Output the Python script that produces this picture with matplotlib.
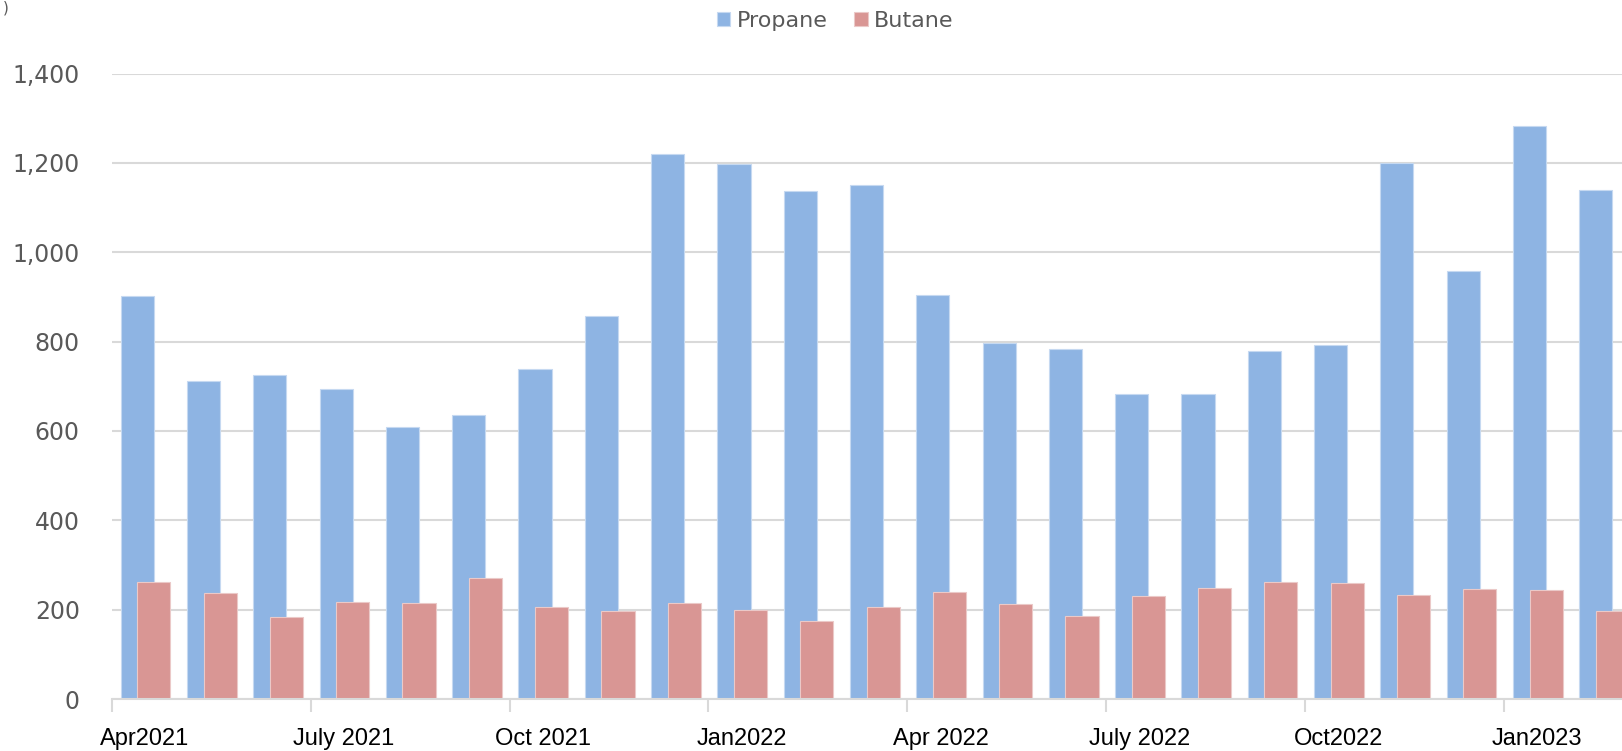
import matplotlib
matplotlib.use("Agg")
import matplotlib.pyplot as plt
import numpy as np

# monthly volumes, Apr 2021 .. Feb 2023
months = ["Apr2021", "May2021", "Jun2021", "July 2021", "Aug2021", "Sep2021",
          "Oct 2021", "Nov2021", "Dec2021", "Jan2022", "Feb2022", "Mar2022",
          "Apr 2022", "May2022", "Jun2022", "July 2022", "Aug2022", "Sep2022",
          "Oct2022", "Nov2022", "Dec2022", "Jan2023", "Feb2023"]
propane = [903, 713, 725, 693, 608, 635, 739, 858, 1220, 1198, 1138, 1150,
           905, 797, 783, 683, 683, 779, 792, 1200, 958, 1283, 1140]
butane = [262, 238, 184, 218, 214, 272, 207, 198, 216, 199, 174, 206,
          240, 212, 186, 231, 248, 262, 260, 233, 247, 244, 196]
label_every = 3

blue = "#8EB4E3"
pink = "#D99694"
grid_c = "#D9D9D9"
text_c = "#595959"

fig = plt.figure(figsize=(16.22, 7.51), dpi=100)
ax = fig.add_axes([0.0689, 0.0692, 0.9311, 0.902 - 0.0692])

x = np.arange(len(months))
ax.bar(x - 0.115, propane, width=0.5, color=blue, edgecolor="#C6D9F1",
       linewidth=0.8, label="Propane", zorder=2)
ax.bar(x + 0.135, butane, width=0.5, color=pink, edgecolor="#EBC9C8",
       linewidth=0.8, label="Butane", zorder=3)

ax.set_ylim(0, 1400)
ax.set_xlim(-0.5, 22.28)

ax.set_yticks(range(0, 1401, 200))
ax.set_yticklabels([f"{v:,}" for v in range(0, 1401, 200)])
ax.tick_params(axis="y", length=0, pad=23, labelsize=17, labelcolor=text_c)
ax.yaxis.grid(True, color=grid_c, linewidth=1.5, zorder=0)
ax.set_axisbelow(True)

# boundary ticks every quarter, labels centred on the month
bounds = np.arange(-0.5, len(months), label_every)
ax.set_xticks(bounds, minor=True)
ax.tick_params(axis="x", which="minor", length=9, width=1.5, color=grid_c)
ax.set_xticks(x[::label_every])
ax.set_xticklabels(months[::label_every], fontfamily="Liberation Sans",
                   fontsize=17, color="black")
ax.tick_params(axis="x", which="major", length=0, pad=21)

for s in ["top", "right", "left"]:
    ax.spines[s].set_visible(False)
ax.spines["bottom"].set_color(grid_c)
ax.spines["bottom"].set_linewidth(1.5)
ax.spines["bottom"].set_zorder(4)

leg = fig.legend(loc="center", bbox_to_anchor=(0.515, 0.972), ncol=2,
                 frameon=False, fontsize=16, handlelength=0.6, handleheight=0.6,
                 handletextpad=0.3, columnspacing=1.2)
for t in leg.get_texts():
    t.set_color(text_c)

# tail of the unit label in the top-left corner
fig.text(0.002, 0.999, ")", ha="left", va="top", fontsize=11, color=text_c)

fig.savefig("out.png", dpi=100)
